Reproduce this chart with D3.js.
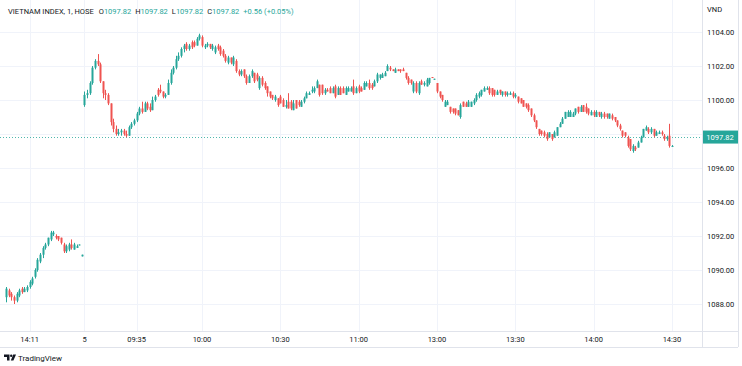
<!DOCTYPE html>
<html>
<head>
<meta charset="utf-8">
<title>VIETNAM INDEX, 1, HOSE</title>
<script src="https://cdn.jsdelivr.net/npm/d3@7"></script>
<style>
  body { margin: 0; background: #fff; }
  text { font-family: Roboto, "Liberation Sans", Arial, sans-serif; }
</style>
</head>
<body>
<script>
// ---- data: [open, high, low, close] per 1-minute bar ----
// previous session, 14:02 .. 14:30 plus the ATC bar
var prevBars = [
  [1088.4,1089.0,1088.1,1088.9],[1088.8,1088.9,1088.4,1088.5],[1088.6,1088.7,1088.2,1088.4],
  [1088.4,1088.5,1088.0,1088.2],[1088.2,1088.7,1088.1,1088.6],[1088.5,1088.9,1088.4,1088.8],
  [1088.9,1089.0,1088.6,1088.7],[1088.7,1089.0,1088.7,1088.9],[1088.8,1089.1,1088.7,1089.0],
  [1089.0,1089.4,1088.9,1089.3],[1089.2,1089.6,1089.1,1089.5],[1089.6,1090.1,1089.5,1090.0],
  [1090.0,1090.7,1089.9,1090.6],[1090.5,1091.0,1090.4,1090.9],[1090.9,1091.4,1090.7,1091.3],
  [1091.3,1091.6,1091.2,1091.5],[1091.5,1091.9,1091.4,1091.9],[1091.8,1092.3,1091.7,1092.2],
  [1092.1,1092.3,1092.0,1092.2],[1092.0,1092.1,1091.8,1091.9],[1092.0,1092.0,1091.7,1091.8],
  [1091.9,1091.9,1091.5,1091.6],[1091.5,1091.6,1091.0,1091.1],[1091.1,1091.5,1091.0,1091.4],
  [1091.2,1091.6,1091.1,1091.5],[1091.5,1091.8,1091.2,1091.3],[1091.2,1091.6,1091.2,1091.5],
  [1091.3,1091.5,1091.3,1091.4],[1091.45,1091.5,1091.45,1091.5],[1090.8,1090.9,1090.8,1090.9]
];

// day 5, morning 09:15 .. 11:29
var morningBars = [
  [1099.7,1100.5,1099.6,1100.3],[1100.3,1100.6,1100.1,1100.4],[1100.4,1101.1,1100.3,1101.0],
  [1101.0,1102.0,1100.9,1101.9],[1101.9,1102.4,1101.8,1102.3],[1102.3,1102.7,1102.0,1102.1],
  [1102.1,1102.2,1101.0,1101.1],[1101.1,1101.1,1100.1,1100.4],[1100.4,1100.6,1100.0,1100.3],
  [1100.3,1100.4,1099.7,1099.8],[1099.8,1099.8,1098.5,1098.7],[1098.7,1098.9,1098.1,1098.3],
  [1098.3,1098.5,1097.9,1098.0],[1098.0,1098.3,1097.9,1098.1],[1098.1,1098.3,1097.9,1098.2],
  [1098.2,1098.3,1097.9,1098.0],[1098.0,1098.2,1097.8,1097.9],[1097.9,1098.5,1097.9,1098.4],
  [1098.4,1098.7,1098.3,1098.6],[1098.6,1098.9,1098.5,1098.8],[1098.8,1099.3,1098.7,1099.2],
  [1099.2,1099.6,1099.1,1099.5],[1099.5,1099.9,1099.2,1099.3],[1099.3,1099.9,1099.3,1099.8],
  [1099.8,1099.9,1099.4,1099.5],[1099.6,1099.8,1099.3,1099.4],[1099.4,1100.2,1099.4,1100.0],
  [1100.0,1100.3,1099.9,1100.2],[1100.6,1100.7,1100.2,1100.3],[1100.6,1100.9,1100.4,1100.5],
  [1100.5,1100.5,1100.1,1100.2],[1100.2,1100.4,1100.1,1100.3],[1100.3,1101.2,1100.3,1101.0],
  [1101.0,1101.8,1100.9,1101.6],[1101.6,1102.0,1101.5,1101.9],[1101.9,1102.6,1101.8,1102.4],
  [1102.4,1102.8,1102.3,1102.6],[1102.6,1103.1,1102.5,1103.0],[1103.0,1103.3,1102.8,1103.2],
  [1103.3,1103.4,1102.9,1103.0],[1103.0,1103.3,1102.9,1103.2],[1103.4,1103.5,1103.0,1103.1],
  [1103.4,1103.5,1103.1,1103.2],[1103.2,1103.7,1103.2,1103.6],[1103.6,1103.9,1103.5,1103.8],
  [1103.7,1103.8,1103.1,1103.2],[1103.1,1103.3,1103.0,1103.2],[1103.2,1103.4,1103.1,1103.3],
  [1103.3,1103.3,1103.0,1103.1],[1103.0,1103.3,1102.9,1103.2],[1102.8,1103.2,1102.7,1103.1],
  [1103.2,1103.3,1102.9,1103.0],[1103.1,1103.2,1102.6,1102.7],[1102.9,1103.0,1102.5,1102.6],
  [1102.6,1102.7,1102.2,1102.3],[1102.2,1102.6,1102.1,1102.5],[1102.5,1102.5,1102.1,1102.2],
  [1102.1,1102.6,1102.0,1102.5],[1102.3,1102.4,1101.6,1101.7],[1101.7,1101.8,1101.4,1101.5],
  [1101.5,1101.8,1101.4,1101.7],[1101.8,1101.8,1101.3,1101.4],[1101.4,1101.5,1100.9,1101.0],
  [1101.0,1101.5,1101.0,1101.4],[1101.4,1101.8,1101.3,1101.7],[1101.6,1101.6,1101.0,1101.1],
  [1101.5,1101.6,1101.1,1101.2],[1100.7,1101.4,1100.6,1101.3],[1101.3,1101.4,1100.8,1100.9],
  [1101.0,1101.1,1100.6,1100.7],[1100.8,1100.8,1100.2,1100.4],[1100.5,1100.5,1100.1,1100.2],
  [1100.3,1100.3,1100.0,1100.1],[1100.0,1100.3,1099.9,1100.2],[1100.1,1100.1,1099.6,1099.7],
  [1100.2,1100.3,1099.8,1099.8],[1100.0,1100.1,1099.6,1099.6],[1099.6,1100.0,1099.5,1099.7],
  [1099.9,1100.4,1099.5,1099.5],[1099.9,1100.0,1099.4,1099.5],[1099.4,1100.0,1099.4,1099.8],
  [1100.0,1100.0,1099.5,1099.5],[1099.9,1100.0,1099.6,1099.7],[1099.6,1100.0,1099.6,1099.9],
  [1099.9,1100.2,1099.8,1100.1],[1100.1,1100.5,1100.1,1100.4],[1100.3,1100.5,1100.3,1100.4],
  [1100.5,1100.8,1100.4,1100.6],[1100.5,1100.8,1100.4,1100.7],[1100.7,1101.2,1100.7,1101.1],
  [1100.9,1100.9,1100.2,1100.3],[1100.9,1100.9,1100.3,1100.4],[1100.4,1100.7,1100.3,1100.6],
  [1100.6,1100.7,1100.5,1100.5],[1100.7,1100.8,1100.4,1100.4],[1100.4,1100.8,1100.4,1100.7],
  [1100.8,1100.9,1100.1,1100.2],[1100.3,1100.8,1100.3,1100.7],[1100.7,1100.8,1100.3,1100.3],
  [1100.7,1100.8,1100.4,1100.4],[1100.3,1100.8,1100.3,1100.7],[1100.5,1100.8,1100.5,1100.7],
  [1100.5,1100.8,1100.5,1100.7],[1100.8,1101.2,1100.3,1100.4],[1100.4,1100.8,1100.4,1100.7],
  [1100.8,1100.9,1100.4,1100.5],[1100.7,1100.8,1100.5,1100.5],[1100.6,1101.1,1100.6,1101.0],
  [1100.8,1101.1,1100.8,1101.0],[1101.0,1101.2,1100.6,1100.7],[1100.9,1101.0,1100.6,1100.7],
  [1100.8,1101.2,1100.8,1101.1],[1101.1,1101.6,1101.0,1101.5],[1101.3,1101.5,1101.2,1101.5],
  [1101.3,1101.6,1101.3,1101.5],[1101.4,1101.7,1101.4,1101.6],[1101.7,1102.1,1101.7,1102.0],
  [1101.9,1102.0,1101.7,1101.8],[1101.8,1101.8,1101.7,1101.7],[1101.6,1101.9,1101.6,1101.8],
  [1101.8,1101.8,1101.7,1101.7],[1101.8,1101.8,1101.6,1101.7],[1101.8,1101.9,1101.7,1101.7],
  [1101.6,1101.6,1101.2,1101.3],[1101.3,1101.4,1100.9,1101.0],[1101.2,1101.2,1100.9,1101.0],
  [1100.5,1101.1,1100.4,1101.0],[1101.0,1101.1,1100.4,1100.5],[1100.4,1101.1,1100.3,1101.0],
  [1101.1,1101.2,1100.9,1100.9],[1100.9,1101.1,1100.8,1101.0],[1100.8,1101.3,1100.8,1101.2],
  [1101.0,1101.3,1100.9,1101.3],[1101.35,1101.35,1101.3,1101.3],[1101.2,1101.25,1101.2,1101.25]
];

// day 5, afternoon 13:00 .. 14:30
var afternoonBars = [
  [1101.0,1101.0,1100.4,1100.5],[1100.5,1100.5,1100.1,1100.2],[1100.3,1100.3,1099.9,1100.0],
  [1099.6,1100.0,1099.6,1099.9],[1099.7,1100.0,1099.7,1099.9],[1099.6,1099.6,1099.2,1099.3],
  [1099.5,1099.5,1099.2,1099.3],[1099.5,1099.5,1099.1,1099.2],[1099.4,1099.4,1099.1,1099.1],
  [1099.0,1099.8,1098.9,1099.7],[1099.9,1099.9,1099.6,1099.6],[1099.8,1099.9,1099.6,1099.6],
  [1099.6,1100.0,1099.6,1099.9],[1099.6,1099.9,1099.6,1099.9],[1099.8,1100.1,1099.7,1100.0],
  [1100.0,1100.4,1099.9,1100.3],[1100.2,1100.5,1100.1,1100.4],[1100.3,1100.6,1100.2,1100.6],
  [1100.5,1100.8,1100.5,1100.7],[1100.6,1100.8,1100.6,1100.7],[1100.7,1100.8,1100.3,1100.4],
  [1100.7,1100.7,1100.2,1100.3],[1100.6,1100.6,1100.2,1100.3],[1100.3,1100.6,1100.3,1100.5],
  [1100.6,1100.6,1100.3,1100.4],[1100.3,1100.5,1100.2,1100.5],[1100.5,1100.5,1100.2,1100.3],
  [1100.3,1100.5,1100.2,1100.4],[1100.3,1100.5,1100.3,1100.4],[1100.4,1100.5,1100.1,1100.2],
  [1100.2,1100.4,1100.1,1100.3],[1100.2,1100.2,1099.8,1099.9],[1100.1,1100.1,1099.8,1099.8],
  [1100.0,1100.0,1099.6,1099.6],[1099.8,1099.8,1099.5,1099.6],[1099.7,1099.8,1099.3,1099.4],
  [1099.5,1099.5,1099.0,1099.1],[1099.1,1099.2,1098.7,1098.8],[1098.8,1098.8,1098.3,1098.4],
  [1098.3,1098.3,1097.9,1098.0],[1098.2,1098.2,1097.9,1098.0],[1098.1,1098.2,1097.8,1097.9],
  [1098.0,1098.1,1097.6,1097.7],[1097.8,1098.1,1097.8,1098.1],[1098.0,1098.0,1097.6,1097.7],
  [1097.8,1098.2,1097.8,1098.1],[1097.9,1098.4,1097.9,1098.4],[1098.4,1098.7,1098.4,1098.6],
  [1098.6,1099.0,1098.6,1098.9],[1098.9,1099.3,1098.9,1099.3],[1099.0,1099.4,1099.0,1099.3],
  [1099.0,1099.4,1099.0,1099.3],[1099.0,1099.3,1099.0,1099.2],[1099.2,1099.5,1099.1,1099.5],
  [1099.6,1099.6,1099.2,1099.3],[1099.3,1099.7,1099.3,1099.6],[1099.7,1099.7,1099.3,1099.3],
  [1099.6,1099.8,1099.2,1099.3],[1099.5,1099.5,1099.1,1099.2],[1099.1,1099.4,1099.1,1099.3],
  [1099.3,1099.4,1099.0,1099.1],[1099.0,1099.4,1099.0,1099.3],[1099.3,1099.3,1099.0,1099.1],
  [1099.0,1099.3,1098.9,1099.2],[1099.2,1099.3,1098.9,1099.0],[1099.2,1099.2,1098.9,1099.0],
  [1098.9,1099.2,1098.9,1099.2],[1099.1,1099.2,1098.8,1098.9],[1099.0,1099.0,1098.7,1098.8],
  [1098.8,1098.8,1098.4,1098.5],[1098.5,1098.6,1098.2,1098.3],[1098.2,1098.2,1097.8,1097.9],
  [1098.1,1098.1,1097.8,1097.9],[1097.8,1097.9,1097.2,1097.3],[1097.7,1097.7,1097.0,1097.1],
  [1097.0,1097.4,1096.9,1097.3],[1097.2,1097.3,1097.0,1097.1],[1097.2,1097.6,1097.2,1097.5],
  [1097.5,1097.9,1097.5,1097.8],[1097.8,1098.3,1097.8,1098.3],[1098.2,1098.5,1098.2,1098.4],
  [1098.3,1098.4,1098.0,1098.1],[1098.1,1098.4,1098.0,1098.3],[1098.3,1098.3,1097.8,1097.9],
  [1097.9,1098.2,1097.9,1098.1],[1098.0,1098.2,1098.0,1098.1],[1098.1,1098.2,1097.9,1098.0],
  [1097.9,1098.0,1097.6,1097.7],[1097.7,1097.9,1097.6,1097.8],[1097.9,1098.6,1097.2,1097.3],
  [1097.3,1097.35,1097.25,1097.3]
];

var timeLabels = ["14:11", "5", "09:35", "10:00", "10:30", "11:00", "13:00", "13:30", "14:00", "14:30"];
var timeLabelBars = [-21, 0, 20, 45, 75, 105, 135, 165, 195, 225];   // bar index of each label
var priceTicks = [1088, 1090, 1092, 1094, 1096, 1098, 1100, 1102, 1104];
var lastPrice = 1097.82;
var symbolTitle = "VIETNAM INDEX, 1, HOSE";
var legendItems = [["O", "1097.82"], ["H", "1097.82"], ["L", "1097.82"], ["C", "1097.82"]];
var changeText = "+0.56 (+0.05%)";

// bar index: 0 = first bar of day 5, previous session sits just before it
var bars = [];
prevBars.forEach(function(b, k) { bars.push({i: k - prevBars.length, o: b[0], h: b[1], l: b[2], c: b[3]}); });
morningBars.forEach(function(b, k) { bars.push({i: k, o: b[0], h: b[1], l: b[2], c: b[3]}); });
afternoonBars.forEach(function(b, k) { bars.push({i: k + morningBars.length, o: b[0], h: b[1], l: b[2], c: b[3]}); });

var W = 742, H = 366;
var paneRight = 702, paneBottom = 331, axisBottom = 347, frameRight = 738;
var up = "#26a69a", down = "#ef5350", grid = "#f0f3fa", border = "#e0e3eb", ink = "#131722";

var x = d3.scaleLinear().domain([-32.36, 236.5]).range([0, paneRight]);
var y = d3.scaleLinear().domain([1088, 1104]).range([304, 32]);

var svg = d3.select("body").append("svg")
    .attr("width", W).attr("height", H)
    .style("display", "block");

// grid
svg.append("g").selectAll("line").data(priceTicks).enter().append("line")
    .attr("x1", 0).attr("x2", paneRight)
    .attr("y1", function(d) { return Math.round(y(d)) + 0.5; })
    .attr("y2", function(d) { return Math.round(y(d)) + 0.5; })
    .attr("stroke", grid);
svg.append("g").selectAll("line").data(timeLabelBars).enter().append("line")
    .attr("y1", 0).attr("y2", paneBottom)
    .attr("x1", function(d) { return Math.round(x(d)) + 0.5; })
    .attr("x2", function(d) { return Math.round(x(d)) + 0.5; })
    .attr("stroke", grid);

// frame lines
svg.append("line").attr("x1", paneRight + 0.5).attr("x2", paneRight + 0.5)
    .attr("y1", 0).attr("y2", axisBottom).attr("stroke", border);
svg.append("line").attr("x1", 0).attr("x2", frameRight)
    .attr("y1", paneBottom + 0.5).attr("y2", paneBottom + 0.5).attr("stroke", border);
svg.append("line").attr("x1", 0).attr("x2", frameRight)
    .attr("y1", axisBottom + 0.5).attr("y2", axisBottom + 0.5).attr("stroke", border);
svg.append("line").attr("x1", frameRight + 0.5).attr("x2", frameRight + 0.5)
    .attr("y1", 0).attr("y2", axisBottom).attr("stroke", border);

// last price dotted line
svg.append("line")
    .attr("x1", 0).attr("x2", paneRight)
    .attr("y1", Math.round(y(lastPrice)) + 0.5).attr("y2", Math.round(y(lastPrice)) + 0.5)
    .attr("stroke", up).attr("stroke-opacity", 0.8).attr("stroke-dasharray", "1,2");

// candles
var candle = svg.append("g").selectAll("g").data(bars).enter().append("g");
candle.append("line")
    .attr("x1", function(d) { return Math.round(x(d.i)) + 0.5; })
    .attr("x2", function(d) { return Math.round(x(d.i)) + 0.5; })
    .attr("y1", function(d) { return y(d.h); })
    .attr("y2", function(d) { return y(d.l); })
    .attr("stroke", function(d) { return d.c >= d.o ? up : down; });
candle.append("rect")
    .attr("x", function(d) { return Math.round(x(d.i)) - 0.5; })
    .attr("width", 2)
    .attr("y", function(d) { return y(Math.max(d.o, d.c)); })
    .attr("height", function(d) { return Math.max(1, Math.abs(y(d.o) - y(d.c))); })
    .attr("fill", function(d) { return d.c >= d.o ? up : down; });

// price axis
svg.append("text").attr("x", 707).attr("y", 12)
    .attr("font-size", 7.5).attr("fill", ink).text("VND");
svg.append("g").selectAll("text").data(priceTicks.filter(function(d) { return Math.abs(y(d) - y(lastPrice)) > 8; }))
    .enter().append("text")
    .attr("x", 707).attr("y", function(d) { return y(d) + 3; })
    .attr("font-size", 7.5).attr("fill", ink)
    .text(function(d) { return d3.format(".2f")(d); });
svg.append("rect").attr("x", paneRight + 1).attr("y", y(lastPrice) - 6.5)
    .attr("width", frameRight - paneRight - 1).attr("height", 13).attr("fill", up);
svg.append("text").attr("x", 720).attr("y", y(lastPrice) + 3)
    .attr("text-anchor", "middle").attr("font-size", 7.5).attr("fill", "#fff")
    .text(d3.format(".2f")(lastPrice));

// time axis
svg.append("g").selectAll("text").data(timeLabelBars).enter().append("text")
    .attr("x", function(d) { return x(d); }).attr("y", 342)
    .attr("text-anchor", "middle").attr("font-size", 7.5).attr("fill", ink)
    .text(function(d, k) { return timeLabels[k]; });

// legend
var legend = svg.append("text").attr("x", 8).attr("y", 14).attr("font-size", 7.5).attr("fill", ink);
legend.append("tspan").text(symbolTitle);
legendItems.forEach(function(p, k) {
  legend.append("tspan").attr("dx", k === 0 ? 5 : 4).text(p[0]);
  legend.append("tspan").attr("fill", up).text(p[1]);
});
legend.append("tspan").attr("dx", 4).attr("fill", up).text(changeText);

// TradingView mark: small logo shapes plus the word
var logo = svg.append("g").attr("fill", ink);
logo.append("path").attr("d", "M4,354.5h5.5v6h-2.5v-3.5h-3z");
logo.append("circle").attr("cx", 11.2).attr("cy", 355.8).attr("r", 1.2);
logo.append("path").attr("d", "M13.2,354.5h2.8l-2.6,6h-2.6z");
svg.append("text").attr("x", 18).attr("y", 361).attr("font-size", 8)
    .attr("fill", ink).text("TradingView");
</script>
</body>
</html>
